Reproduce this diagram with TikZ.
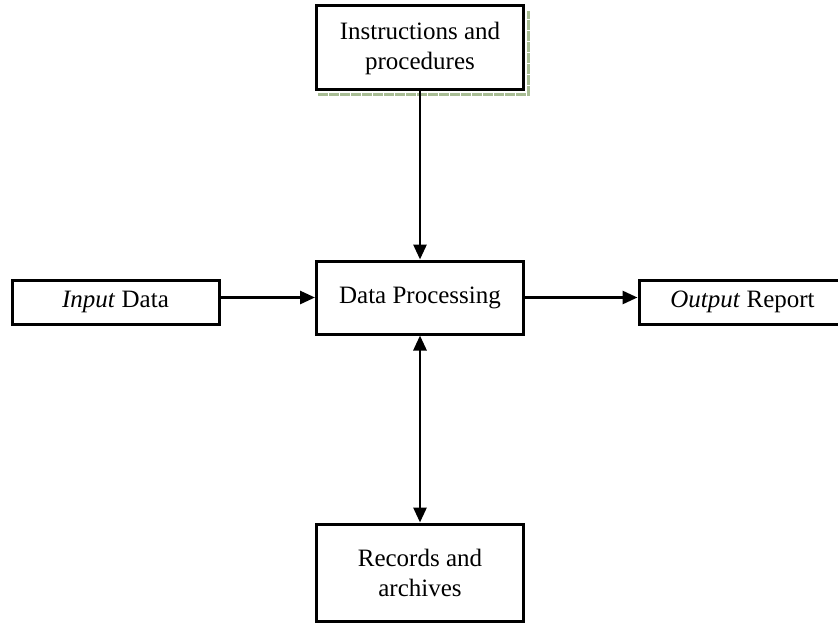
\documentclass[tikz,border=0pt]{standalone}
\usepackage{fontspec}
\setmainfont{Liberation Serif}
\usetikzlibrary{arrows.meta,calc}
\definecolor{shadegreen}{rgb}{0.66,0.74,0.58}

\begin{document}
\begin{tikzpicture}[x=1pt,y=-1pt,
        box/.style={draw, line width=3pt, minimum width=207pt, align=center,
            inner sep=0pt, font=\fontsize{25}{30}\selectfont},
        link/.style={line width=2.8pt, -{Triangle[length=15pt,width=13pt]}},
        shade/.style={shadegreen, line width=3pt, dash pattern=on 10pt off 1pt}]
    \useasboundingbox (0,0) rectangle (838,623);
    \node[box, minimum height=84pt] (instr) at (420,48) {Instructions and\\procedures};
    \node[box, minimum height=73pt] (proc) at (420,297.5) {Data Processing};
    \node[box, minimum height=44pt] (input) at (115.5,302) {\textit{Input} Data};
    \node[box, minimum height=44pt] (output) at (742.5,302) {\textit{Output} Report};
    \node[box, minimum height=97pt] (records) at (420,572.5) {Records and\\archives};
    % shadow strip of the top box
    \draw[shade] ($(instr.south west)+(3,3.5)$) -- ($(instr.south east)+(3.5,3.5)$)
        -- ($(instr.north east)+(3.5,7)$);
    \draw[link] (instr.south) -- (proc.north);
    \draw[link] (proc.west -| input.east) -- (proc.west);
    \draw[link] (proc.east) -- (proc.east -| output.west);
    \draw[link, {Triangle[length=15pt,width=13pt]}-{Triangle[length=15pt,width=13pt]}]
        (proc.south) -- (records.north);
\end{tikzpicture}
\end{document}
